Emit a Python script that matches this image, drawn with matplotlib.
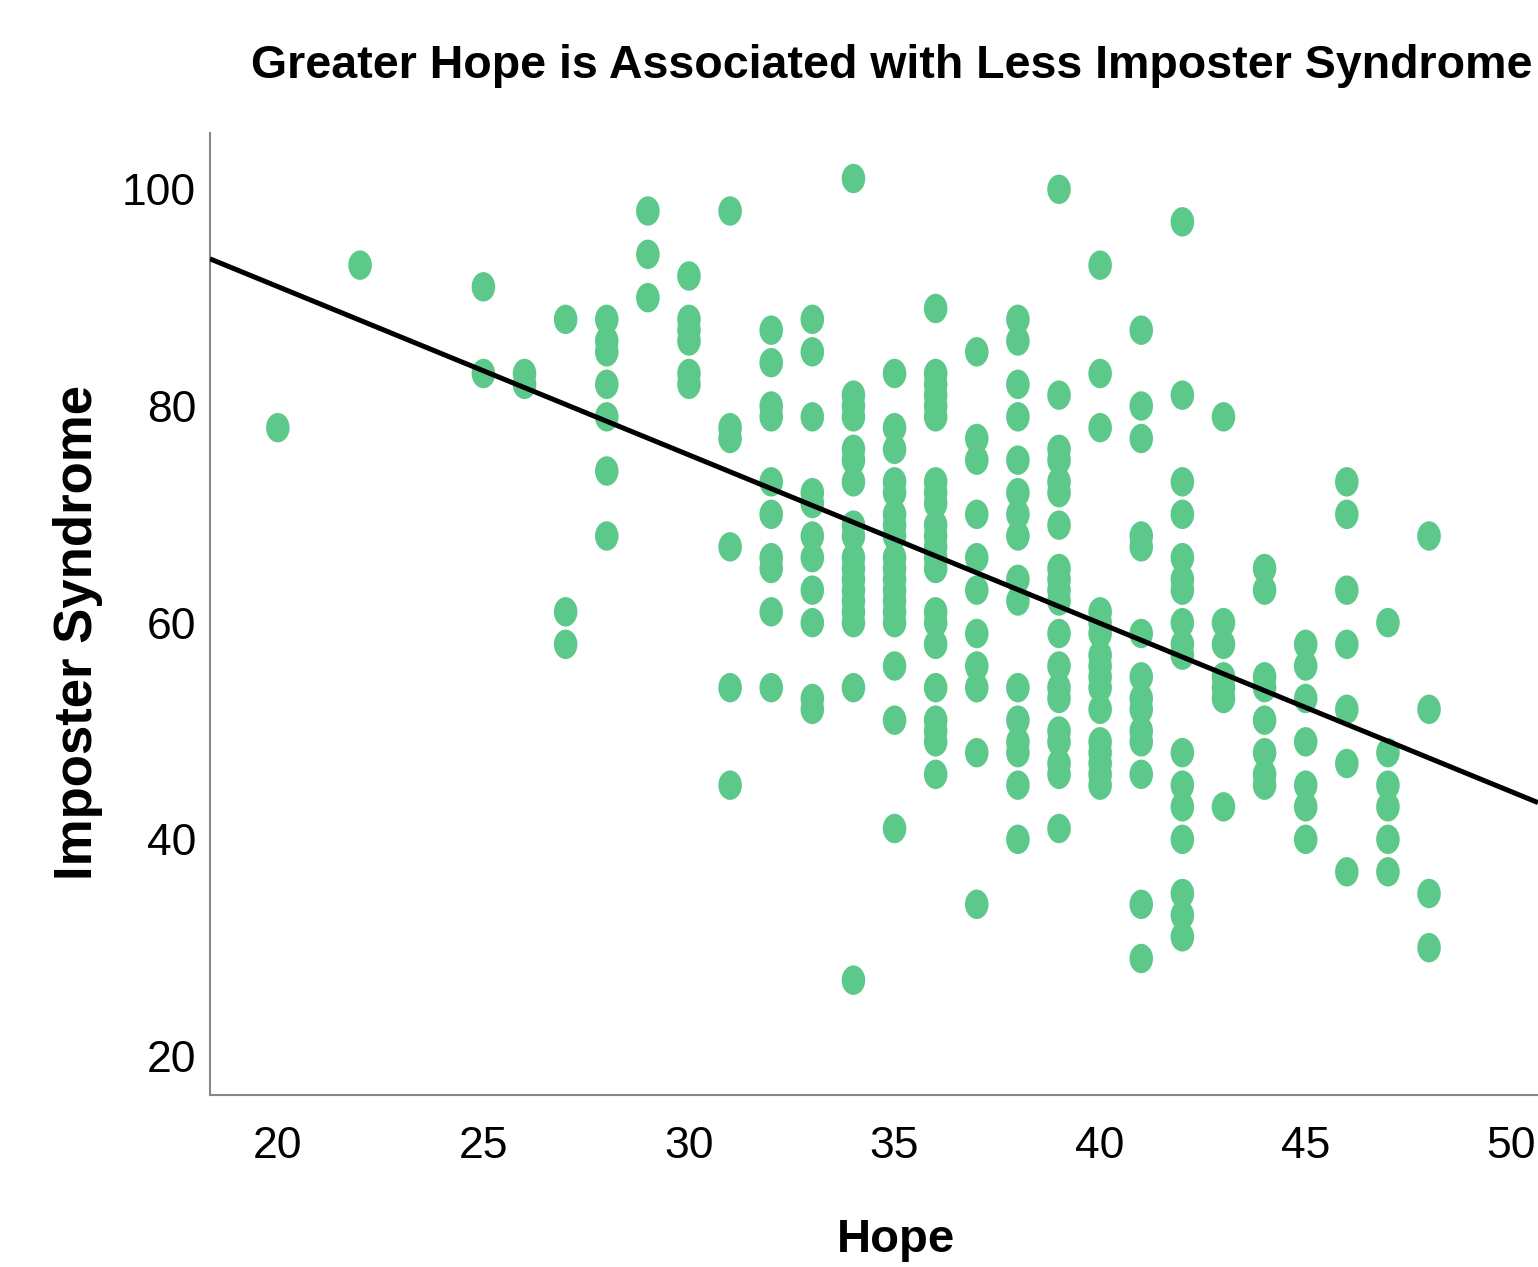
import matplotlib
matplotlib.use("Agg")
import matplotlib.pyplot as plt
import numpy as np
from matplotlib.path import Path
from matplotlib.transforms import Affine2D

# ---- data ----
hope_values = [20, 22, 25, 26, 27, 28, 29, 30, 31, 32, 33, 34, 35, 36, 37, 38,
               39, 40, 41, 42, 43, 44, 45, 46, 47, 48]
imposter_by_hope = {
    20: [78],
    22: [93],
    25: [91, 83],
    26: [83, 82],
    27: [88, 61, 58],
    28: [88, 86, 85, 82, 79, 74, 68],
    29: [98, 94, 90],
    30: [92, 88, 87, 86, 83, 82],
    31: [98, 78, 77, 67, 54, 45],
    32: [87, 84, 80, 79, 73, 70, 66, 65, 61, 54],
    33: [88, 85, 79, 72, 71, 68, 66, 63, 60, 53, 52],
    34: [101, 81, 80, 79, 76, 75, 73, 69, 68, 66, 65, 64, 63, 62, 61, 60, 54, 27],
    35: [83, 78, 76, 73, 72, 70, 69, 68, 66, 65, 64, 63, 62, 61, 60, 56, 51, 41],
    36: [89, 83, 82, 81, 80, 79, 73, 72, 71, 69, 68, 67, 66, 65, 61, 60, 58, 54,
         51, 50, 49, 46],
    37: [85, 77, 75, 70, 66, 63, 59, 56, 54, 48, 34],
    38: [88, 86, 82, 79, 75, 72, 70, 68, 64, 62, 54, 51, 49, 48, 45, 40],
    39: [100, 81, 76, 75, 73, 72, 69, 65, 64, 63, 62, 59, 56, 54, 53, 50, 49, 47,
         46, 41],
    40: [93, 83, 78, 61, 60, 59, 57, 56, 55, 54, 52, 49, 48, 47, 46, 45],
    41: [87, 80, 77, 68, 67, 59, 55, 53, 52, 50, 49, 46, 34, 29],
    42: [97, 81, 73, 70, 66, 64, 63, 60, 58, 57, 48, 45, 43, 40, 35, 33, 31],
    43: [79, 60, 58, 55, 54, 53, 43],
    44: [65, 63, 55, 54, 51, 48, 46, 45],
    45: [58, 56, 53, 49, 45, 43, 40],
    46: [73, 70, 63, 58, 52, 47, 37],
    47: [60, 48, 45, 43, 40, 37],
    48: [68, 52, 35, 30],
}
fit_intercept = 122.1
fit_slope = -1.554

x_ticks = [20, 25, 30, 35, 40, 45, 50]
y_ticks = [20, 40, 60, 80, 100]
title = "Greater Hope is Associated with Less Imposter Syndrome"
x_label = "Hope"
y_label = "Imposter Syndrome"

# ---- build arrays ----
xs, ys = [], []
for h in hope_values:
    for v in imposter_by_hope[h]:
        xs.append(h)
        ys.append(v)
xs = np.array(xs, dtype=float)
ys = np.array(ys, dtype=float)

plt.rcParams['font.family'] = ['Liberation Sans', 'DejaVu Sans']

fig = plt.figure(figsize=(15.38, 12.67), dpi=100)
ax = fig.add_axes([210 / 1538, 1 - 1095 / 1267, 1 - 210 / 1538, (1095 - 133) / 1267])

# elliptical marker (taller than wide)
circ = Path.unit_circle()
ell = Affine2D().scale(0.8, 1.0).transform_path(circ)

ax.scatter(xs, ys, s=21.2 ** 2, marker=ell, color='#5cc98a', edgecolors='none',
           zorder=2)

xlim = (18.35, 50.65)
ax.set_xlim(*xlim)
ax.set_ylim(16.4, 105.2)
lx = np.array(xlim)
ax.plot(lx, fit_intercept + fit_slope * lx, color='black', lw=3.6, zorder=3,
        solid_capstyle='butt')

ax.set_xticks(x_ticks)
ax.set_yticks(y_ticks)
ax.tick_params(axis='both', length=0, labelsize=32)
ax.tick_params(axis='y', pad=10)
ax.tick_params(axis='x', pad=22)
for s in ['top', 'right']:
    ax.spines[s].set_visible(False)
for s in ['left', 'bottom']:
    ax.spines[s].set_color('#888888')
    ax.spines[s].set_linewidth(1.5)

fig.text(892 / 1538, 1 - 66 / 1267, title, ha='center', va='center',
         fontsize=33.5, fontweight='bold')
fig.text(896 / 1538, 1 - 1240 / 1267, x_label, ha='center', va='center',
         fontsize=34, fontweight='bold')
fig.text(78 / 1538, 1 - 632 / 1267, y_label, ha='center', va='center',
         fontsize=38, fontweight='bold', rotation=90)

fig.savefig('out.png', dpi=100)
